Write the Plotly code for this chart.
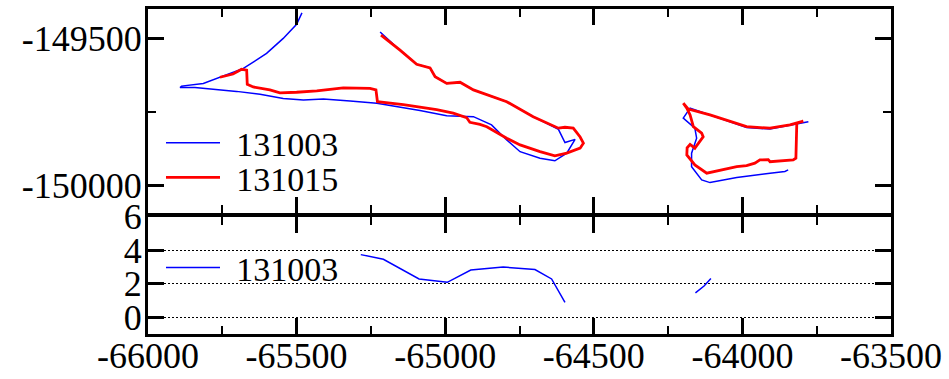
import plotly.graph_objects as go
from plotly.subplots import make_subplots

# ---- top panel: track 131003 (two segments, None separates) ----
x_131003 = [-65482, -65500, -65545, -65601, -65679, -65758, -65814, -65887, -65892,
            -65842, -65802, -65702, -65623, -65545, -65477, -65410, -65320, -65230,
            -65085, -64995, -64905, -64844, -64793, -64748, -64681, -64631, -64591,
            -64563, -64597, -64619, -64704, -64793, -64905, -64950, -64995, -65034,
            -65051, -65096, -65152, -65219,
            None,
            -63778, -63840, -63907, -63986, -64109, -64176, -64199, -64160, -64154,
            -64171, -64171, -64137, -64109, -64019, -63907, -63857, -63846]
y_131003 = [-149413, -149452, -149500, -149551, -149602, -149632, -149653, -149662, -149667,
            -149667, -149670, -149680, -149690, -149704, -149709, -149706, -149713, -149720,
            -149745, -149763, -149766, -149794, -149845, -149885, -149907, -149916, -149890,
            -149843, -149854, -149809, -149766, -149715, -149675, -149649, -149653, -149630,
            -149600, -149588, -149540, -149478,
            None,
            -149783, -149796, -149808, -149803, -149762, -149737, -149771, -149805, -149839,
            -149890, -149936, -149981, -149990, -149973, -149958, -149952, -149947]

# ---- top panel: track 131015 ----
x_131015 = [-65758, -65714, -65685, -65668, -65666, -65646, -65590, -65556, -65500,
            -65432, -65343, -65253, -65233, -65228, -65141, -65029, -64973, -64928,
            -64917, -64883, -64860, -64832, -64793, -64748, -64681, -64631, -64591,
            -64546, -64535, -64546, -64569, -64597, -64619, -64704, -64793, -64905,
            -64950, -64995, -65034, -65051, -65096, -65152, -65216,
            None,
            -64199, -64182, -64109, -63986, -63907, -63840, -63795, -63817, -63820,
            -63829, -63907, -63913, -63941, -63958, -63986, -64019, -64120, -64132,
            -64160, -64187, -64186, -64176, -64160, -64132, -64137, -64165, -64176,
            -64187, -64199]
y_131015 = [-149632, -149621, -149605, -149608, -149656, -149665, -149675, -149685, -149683,
            -149678, -149668, -149670, -149675, -149715, -149725, -149742, -149754, -149769,
            -149785, -149792, -149800, -149817, -149839, -149862, -149885, -149899, -149890,
            -149873, -149856, -149835, -149805, -149802, -149805, -149766, -149715, -149675,
            -149649, -149653, -149630, -149600, -149588, -149540, -149489,
            None,
            -149720, -149740, -149760, -149800, -149805, -149794, -149781, -149788, -149907,
            -149913, -149919, -149912, -149913, -149924, -149932, -149936, -149958, -149950,
            -149930, -149896, -149872, -149860, -149873, -149834, -149822, -149800, -149760,
            -149737, -149720]

# ---- bottom panel: 131003 values ----
xb_131003 = [-65284, -65208, -65088, -64993, -64914, -64805, -64698, -64642, -64597,
             None, -64158, -64129, -64106]
yb_131003 = [3.73, 3.45, 2.28, 2.08, 2.81, 2.99, 2.84, 2.28, 0.89,
             None, 1.45, 1.86, 2.30]

# ---- ticks ----
x_tickvals = [-66000, -65500, -65000, -64500, -64000, -63500]
x_ticktext = ["-66000", "-65500", "-65000", "-64500", "-64000", "-63500"]
ytop_tickvals = [-149500, -150000]
ytop_ticktext = ["-149500", "-150000"]
ybot_tickvals = [0, 2, 4, 6]
ybot_ticktext = ["0", "2", "4", "6"]

FONT = "Liberation Serif"
FS = 36
LFS = 34
SP = "\u2004"

fig = make_subplots(rows=2, cols=1, shared_xaxes=True, vertical_spacing=0,
                    row_heights=[0.634, 0.366])

fig.add_trace(go.Scatter(x=x_131003, y=y_131003, mode="lines", name=SP + "131003",
                         line=dict(color="#0000ff", width=1.5), legend="legend"),
              row=1, col=1)
fig.add_trace(go.Scatter(x=x_131015, y=y_131015, mode="lines", name=SP + "131015",
                         line=dict(color="#ff0000", width=2.8), legend="legend3"),
              row=1, col=1)
fig.add_trace(go.Scatter(x=xb_131003, y=yb_131003, mode="lines", name=SP + "131003",
                         line=dict(color="#0000ff", width=1.5), legend="legend2"),
              row=2, col=1)

axis_common = dict(showline=True, linecolor="black", linewidth=3, mirror="allticks",
                   ticks="inside", ticklen=16, tickwidth=2.5, tickcolor="black",
                   showgrid=False, zeroline=False, automargin=False,
                   tickfont=dict(family=FONT, size=FS, color="black"))

fig.update_xaxes(**axis_common, range=[-66000, -63500], tickvals=x_tickvals,
                 ticktext=x_ticktext, ticklabelstandoff=-12,
                 minor=dict(ticks="inside", ticklen=8, tickwidth=2, tickcolor="black",
                            dtick=250, tick0=-66000, showgrid=False))
fig.update_xaxes(showticklabels=False, row=1, col=1)

fig.update_yaxes(**axis_common, row=1, col=1)
fig.update_yaxes(range=[-150095, -149400], tickvals=ytop_tickvals, ticktext=ytop_ticktext,
                 ticklabelstandoff=-4, domain=[0.3708, 1.0],
                 minor=dict(ticks="inside", ticklen=8, tickwidth=2, tickcolor="black",
                            tickvals=[-149750], showgrid=False),
                 row=1, col=1)
fig.update_yaxes(**axis_common, row=2, col=1)
fig.update_yaxes(range=[-1, 6], tickvals=ybot_tickvals, ticktext=ybot_ticktext,
                 ticklabelstandoff=-4, domain=[0.0, 0.3615],
                 showgrid=True, gridcolor="black", gridwidth=1, griddash="2px,2px",
                 row=2, col=1)

leg_common = dict(xanchor="left", yanchor="middle", bgcolor="rgba(0,0,0,0)",
                  font=dict(family=FONT, size=LFS, color="black"), itemwidth=54)
fig.update_layout(
    width=949, height=379,
    margin=dict(l=148, r=58, t=9, b=45),
    paper_bgcolor="white", plot_bgcolor="white",
    font=dict(family=FONT, size=FS, color="black"),
    showlegend=True,
    legend=dict(x=0.0175, y=0.587, **leg_common),
    legend3=dict(x=0.0175, y=0.481, **leg_common),
    legend2=dict(x=0.0175, y=0.203, **leg_common),
)

fig.write_html("out.html", config={"displayModeBar": False},
               post_script="document.body.style.margin='0px';")
